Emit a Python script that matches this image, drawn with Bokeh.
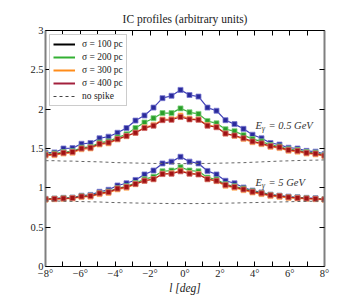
from bokeh.plotting import figure
from bokeh.models import Range1d, FixedTicker, LinearAxis, Legend, LegendItem, Label
from bokeh.embed import file_html
from bokeh.resources import INLINE

# Galactic longitude sample positions (deg)
l_deg = [-8.0, -7.484, -6.968, -6.452, -5.935, -5.419, -4.903, -4.387, -3.871, -3.355,
         -2.839, -2.323, -1.806, -1.290, -0.774, -0.258, 0.258, 0.774, 1.290, 1.806,
         2.323, 2.839, 3.355, 3.871, 4.387, 4.903, 5.419, 5.935, 6.452, 6.968, 7.484, 8.0]

# E_gamma = 0.5 GeV
hi_s100 = [1.445, 1.45, 1.50, 1.505, 1.56, 1.57, 1.63, 1.65, 1.70, 1.76, 1.855, 1.92, 2.02, 2.14, 2.17, 2.245,
           2.18, 2.16, 2.02, 1.98, 1.86, 1.81, 1.75, 1.675, 1.63, 1.57, 1.55, 1.51, 1.50, 1.47, 1.46, 1.43]
hi_s200 = [1.43, 1.435, 1.455, 1.465, 1.51, 1.52, 1.575, 1.59, 1.64, 1.68, 1.76, 1.83, 1.885, 1.95, 1.95, 2.01,
           1.96, 1.94, 1.85, 1.82, 1.745, 1.72, 1.67, 1.62, 1.59, 1.545, 1.525, 1.49, 1.48, 1.455, 1.445, 1.415]
hi_s300 = [1.41, 1.415, 1.435, 1.445, 1.49, 1.50, 1.55, 1.565, 1.615, 1.655, 1.70, 1.77, 1.80, 1.87, 1.875, 1.92,
           1.88, 1.87, 1.80, 1.775, 1.69, 1.66, 1.62, 1.58, 1.555, 1.52, 1.505, 1.47, 1.46, 1.435, 1.425, 1.40]
hi_s400 = [1.42, 1.425, 1.445, 1.455, 1.50, 1.51, 1.56, 1.575, 1.62, 1.66, 1.70, 1.76, 1.79, 1.86, 1.865, 1.90,
           1.87, 1.865, 1.79, 1.77, 1.69, 1.665, 1.63, 1.59, 1.565, 1.53, 1.515, 1.48, 1.47, 1.445, 1.435, 1.41]
hi_nospike = [1.345, 1.345, 1.34, 1.34, 1.335, 1.333, 1.33, 1.325, 1.32, 1.318, 1.315, 1.313, 1.31, 1.31, 1.308, 1.308,
              1.308, 1.31, 1.31, 1.313, 1.315, 1.318, 1.32, 1.325, 1.33, 1.335, 1.34, 1.343, 1.347, 1.35, 1.352, 1.355]

# E_gamma = 5 GeV
lo_s100 = [0.86, 0.862, 0.873, 0.876, 0.90, 0.91, 0.95, 0.975, 1.03, 1.058, 1.10, 1.17, 1.22, 1.31, 1.333, 1.395,
           1.333, 1.31, 1.215, 1.17, 1.09, 1.058, 1.004, 0.965, 0.942, 0.913, 0.90, 0.889, 0.88, 0.873, 0.868, 0.855]
lo_s200 = [0.857, 0.862, 0.868, 0.873, 0.893, 0.90, 0.935, 0.952, 0.995, 1.02, 1.06, 1.11, 1.14, 1.21, 1.22, 1.263,
           1.22, 1.21, 1.13, 1.107, 1.045, 1.02, 0.99, 0.955, 0.935, 0.91, 0.898, 0.882, 0.875, 0.867, 0.862, 0.855]
lo_s300 = [0.85, 0.855, 0.86, 0.865, 0.882, 0.888, 0.92, 0.935, 0.98, 1.0, 1.045, 1.09, 1.11, 1.18, 1.185, 1.22,
           1.185, 1.175, 1.11, 1.085, 1.025, 1.0, 0.97, 0.94, 0.92, 0.895, 0.885, 0.872, 0.865, 0.86, 0.855, 0.848]
lo_s400 = [0.855, 0.86, 0.865, 0.87, 0.89, 0.895, 0.93, 0.945, 0.99, 1.01, 1.05, 1.09, 1.11, 1.175, 1.18, 1.21,
           1.18, 1.17, 1.11, 1.09, 1.035, 1.01, 0.98, 0.95, 0.93, 0.905, 0.895, 0.88, 0.872, 0.865, 0.86, 0.853]
lo_nospike = [0.835, 0.833, 0.83, 0.828, 0.825, 0.822, 0.82, 0.815, 0.812, 0.81, 0.807, 0.805, 0.803, 0.802, 0.80, 0.80,
              0.80, 0.80, 0.802, 0.803, 0.805, 0.807, 0.81, 0.812, 0.815, 0.818, 0.82, 0.823, 0.826, 0.828, 0.83, 0.832]

legend_labels = ["σ = 100 pc", "σ = 200 pc", "σ = 300 pc", "σ = 400 pc", "no spike"]
x_ticks = [-8, -6, -4, -2, 0, 2, 4, 6, 8]
x_tick_labels = ["−8°", "−6°", "−4°", "−2°", "0°", "2°", "4°", "6°", "8°"]
x_minor = [-7, -5, -3, -1, 1, 3, 5, 7]
y_ticks = [0, 0.5, 1, 1.5, 2, 2.5, 3]
y_tick_labels = ["0", "0.5", "1", "1.5", "2", "2.5", "3"]

SERIF = "Liberation Serif"

p = figure(width=352, height=296, output_backend="svg", toolbar_location=None,
           x_range=Range1d(-8, 8), y_range=Range1d(0, 3),
           min_border_left=45, min_border_right=28, min_border_top=30, min_border_bottom=0,
           title="IC profiles (arbitrary units)")
p.title.align = "center"
p.title.text_font = SERIF
p.title.text_font_style = "normal"
p.title.text_font_size = "11.5px"
p.title.text_color = "#222222"
p.title.standoff = 11
p.outline_line_color = None
p.xgrid.visible = False
p.ygrid.visible = False
p.background_fill_color = "white"
p.border_fill_color = "white"

def style_axis(ax, labels, side_color, side_width):
    ax.axis_line_color = side_color
    ax.axis_line_width = side_width
    ax.major_tick_in = 5
    ax.major_tick_out = 0
    ax.minor_tick_in = 5
    ax.minor_tick_out = 0
    ax.major_tick_line_color = "black"
    ax.minor_tick_line_color = "black"
    ax.major_label_text_font = SERIF
    ax.major_label_text_font_size = "10.5px"
    ax.major_label_text_color = "#222222" if labels else None
    ax.major_label_standoff = 2

xt = FixedTicker(ticks=x_ticks, minor_ticks=x_minor)
yt = FixedTicker(ticks=y_ticks, minor_ticks=[])

p.xaxis.ticker = xt
p.xaxis.major_label_overrides = {t: s for t, s in zip(x_ticks, x_tick_labels)}
style_axis(p.xaxis[0], True, "black", 1.2)
p.xaxis.major_label_standoff = 1
p.xaxis.axis_label = "l [deg]"
p.xaxis.axis_label_text_font = SERIF
p.xaxis.axis_label_text_font_style = "italic"
p.xaxis.axis_label_text_font_size = "11.5px"
p.xaxis.axis_label_text_color = "#222222"
p.xaxis.axis_label_standoff = 0
p.yaxis.ticker = yt
p.yaxis.major_label_overrides = {t: s for t, s in zip(y_ticks, y_tick_labels)}
style_axis(p.yaxis[0], True, "#7f7f7f", 2)

top = LinearAxis(ticker=FixedTicker(ticks=x_ticks, minor_ticks=x_minor))
style_axis(top, False, "black", 1.2)
top.major_label_text_font_size = "0px"
top.major_label_standoff = 0
p.add_layout(top, "above")
right = LinearAxis(ticker=FixedTicker(ticks=y_ticks, minor_ticks=[]))
style_axis(right, False, "#7f7f7f", 2)
right.major_label_text_font_size = "0px"
p.add_layout(right, "right")

series = [
    (hi_s100, lo_s100, "#4040b8", "#2a2a9c", "#7a7ad0"),
    (hi_s200, lo_s200, "#3cb33c", "#2a9f2a", "#7fd07f"),
    (hi_s300, lo_s300, "#ff9a33", "#ff8a12", "#ffc080"),
    (hi_s400, lo_s400, "#b42020", "#a01212", "#d06a6a"),
]
for hi, lo, lc, fc, ec in series:
    for ys in (hi, lo):
        p.line(l_deg, ys, line_color=lc, line_width=1.2)
        p.scatter(l_deg, ys, marker="square", size=5, fill_color=fc, line_color=ec, line_width=0.8)

for ys in (hi_nospike, lo_nospike):
    p.line(l_deg, ys, line_color="#666666", line_width=1, line_dash="3 3")

# legend proxies (legend colours as in the original); drawn off-range so only the key shows
off_x = [-30, -29]
off_y = [-30, -30]
leg_colors = ["black", "#33b033", "#ff8c1a", "#a3203c"]
items = []
for lab, c in zip(legend_labels[:4], leg_colors):
    r = p.line(off_x, off_y, line_color=c, line_width=2)
    items.append(LegendItem(label=lab, renderers=[r]))
rd = p.line(off_x, off_y, line_color="#444444", line_width=1, line_dash="3 3")
items.append(LegendItem(label=legend_labels[4], renderers=[rd]))
leg = Legend(items=items, location="top_left", margin=4, padding=3, spacing=1,
             glyph_width=22, glyph_height=12, label_height=12, label_standoff=7,
             label_text_font=SERIF, label_text_font_size="9.5px", label_text_color="#222222",
             border_line_color="#999999", border_line_width=1, background_fill_alpha=1)
p.add_layout(leg)

def ann(x, y, energy):
    common = dict(x_units="data", y_units="data", text_font=SERIF, text_color="#333333",
                  text_baseline="middle", text_font_style="italic")
    p.add_layout(Label(x=x, y=y, text="E", text_font_size="10.5px", **common))
    p.add_layout(Label(x=x, y=y, x_offset=6.5, y_offset=-3, text="γ", text_font_size="7.5px", **common))
    p.add_layout(Label(x=x, y=y, x_offset=13, text="= " + energy, text_font_size="10.5px", **common))

ann(4.05, 1.79, "0.5 GeV")
ann(4.05, 1.066, "5 GeV")

open("out.html", "w").write(file_html(p, INLINE))
